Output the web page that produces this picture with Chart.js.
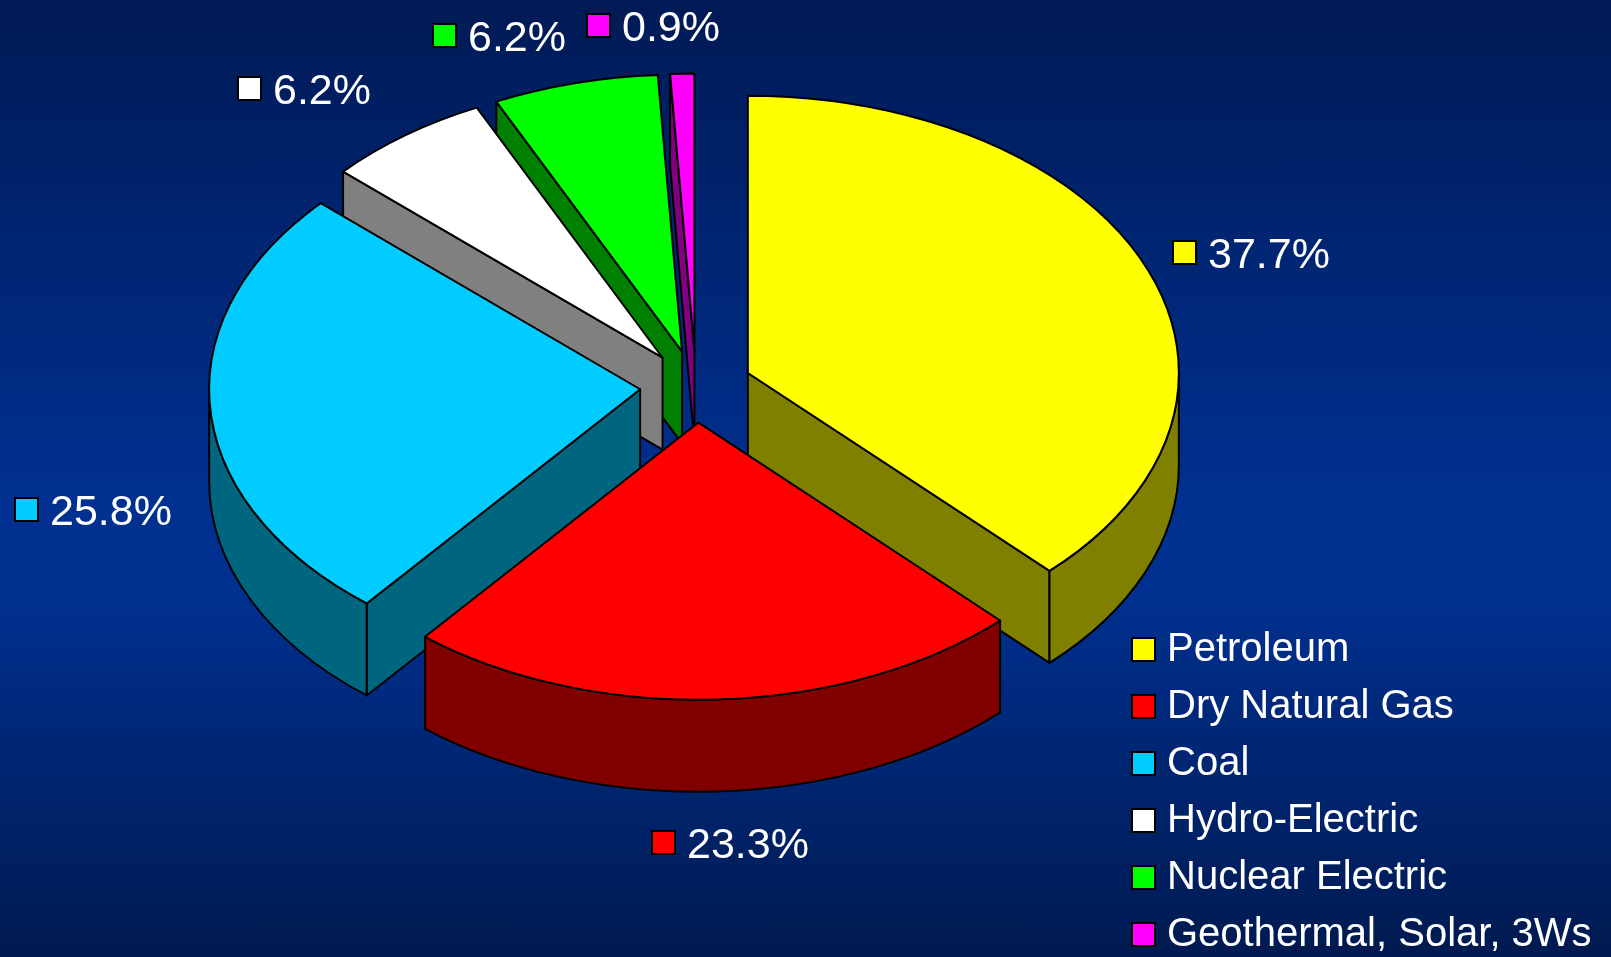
<!DOCTYPE html>
<html>
<head>
<meta charset="utf-8">
<style>
html,body{margin:0;padding:0;width:1611px;height:957px;overflow:hidden;
background:linear-gradient(180deg,#001a55 0%,#003090 52%,#003090 62%,#001a50 100%);}
canvas{display:block;}
</style>
<script src="https://cdn.jsdelivr.net/npm/chart.js@4/dist/chart.umd.js"></script>
</head>
<body>
<canvas id="c" width="1611" height="957"></canvas>
<script>
// ---- data ----
const categories = ['Petroleum','Dry Natural Gas','Coal','Hydro-Electric','Nuclear Electric','Geothermal, Solar, 3Ws'];
const shares = [37.7,23.3,25.8,6.2,6.2,0.9];
const valueLabels = ['37.7%','23.3%','25.8%','6.2%','6.2%','0.9%'];
// ---- styles ----
const topColors = ['#ffff00','#ff0000','#00ccff','#ffffff','#00ff00','#ff00ff'];
const wallColors = ['#808000','#800000','#006680','#808080','#008000','#800080'];
// ---- layout ----
const PIE_RADIUS = 431, TILT = 0.643, DEPTH = 92, EXPLODE = 56, CENTER_Y = 386.6;
const labelBoxes = [[1172,240],[651,830],[14,497],[237,76],[432,23],[586,13]]; // swatch top-left
const drawOrder = [5,4,3,2,0,1]; // back to front
const SWATCH = 25;

function swatchCanvas(color){
  const s=document.createElement('canvas'); s.width=SWATCH; s.height=SWATCH;
  const g=s.getContext('2d');
  g.fillStyle='#000'; g.fillRect(0,0,SWATCH,SWATCH);
  g.fillStyle=color; g.fillRect(2,2,SWATCH-4,SWATCH-4);
  return s;
}

const pie3d = {
  id:'pie3d',
  afterLayout(chart){
    const lg=chart.legend, p=lg.options.labels.padding;
    const w=lg.width, h=lg.height;
    lg.left=1140-p; lg.top=629.5-p; lg.right=lg.left+w; lg.bottom=2000;
  },
  beforeDatasetsDraw(chart){
    const ctx=chart.ctx, arcs=chart.getDatasetMeta(0).data;
    drawOrder.forEach(i=>{
      const arc=arcs[i];
      const a0=arc.startAngle, a1=arc.endAngle, mid=(a0+a1)/2, R=arc.outerRadius;
      const ax=arc.x+Math.cos(mid)*EXPLODE;
      const ay=CENTER_Y+Math.sin(mid)*EXPLODE*TILT;
      const rim=a=>[ax+Math.cos(a)*R, ay+Math.sin(a)*R*TILT];
      ctx.save();
      ctx.lineWidth=2; ctx.strokeStyle='#000'; ctx.lineJoin='round';
      ctx.fillStyle=wallColors[i];
      const quad=a=>{
        const [rx,ry]=rim(a);
        ctx.beginPath();
        ctx.moveTo(ax,ay); ctx.lineTo(rx,ry); ctx.lineTo(rx,ry+DEPTH); ctx.lineTo(ax,ay+DEPTH);
        ctx.closePath(); ctx.fill(); ctx.stroke();
      };
      // radial walls facing the viewer
      if(-Math.cos(a0)>1e-6) quad(a0);
      if(Math.cos(a1)>1e-6) quad(a1);
      // outer rim wall (front half of the ellipse only)
      const lo=Math.max(a0,0), hi=Math.min(a1,Math.PI);
      if(lo<hi){
        ctx.beginPath();
        ctx.ellipse(ax,ay,R,R*TILT,0,lo,hi,false);
        ctx.ellipse(ax,ay+DEPTH,R,R*TILT,0,hi,lo,true);
        ctx.closePath(); ctx.fill(); ctx.stroke();
      }
      // top face: the library's arc element, squashed and moved out
      ctx.save();
      ctx.translate(ax,ay); ctx.scale(1,TILT); ctx.translate(-arc.x,-arc.y);
      arc.draw(ctx);
      ctx.restore();
      ctx.beginPath();
      ctx.moveTo(ax,ay);
      ctx.ellipse(ax,ay,R,R*TILT,0,a0,a1,false);
      ctx.closePath(); ctx.stroke();
      ctx.restore();
    });
    // value labels with swatches
    ctx.save();
    ctx.font='43px "Liberation Sans"'; ctx.textBaseline='alphabetic'; ctx.textAlign='left';
    valueLabels.forEach((t,i)=>{
      const [x,y]=labelBoxes[i];
      ctx.drawImage(swatchCanvas(topColors[i]),x,y);
      ctx.fillStyle='#fff';
      ctx.fillText(t,x+SWATCH+11,y+SWATCH/2+15);
    });
    ctx.restore();
    return false;
  }
};

new Chart(document.getElementById('c'),{
  type:'pie',
  data:{labels:categories,datasets:[{data:shares,backgroundColor:topColors,borderWidth:0}]},
  options:{
    responsive:false,animation:false,devicePixelRatio:1,radius:PIE_RADIUS,
    layout:{padding:{right:219}},
    plugins:{
      tooltip:{enabled:false},
      legend:{
        position:'chartArea',align:'start',
        labels:{
          color:'#fff',padding:17,usePointStyle:true,pointStyleWidth:7,
          font:{family:'"Liberation Sans"',size:40},
          generateLabels(chart){
            return Chart.overrides.pie.plugins.legend.labels.generateLabels(chart)
              .map((l,i)=>Object.assign(l,{pointStyle:swatchCanvas(topColors[i]),fontColor:'#fff'}));
          }
        }
      }
    }
  },
  plugins:[pie3d]
});
</script>
</body>
</html>
